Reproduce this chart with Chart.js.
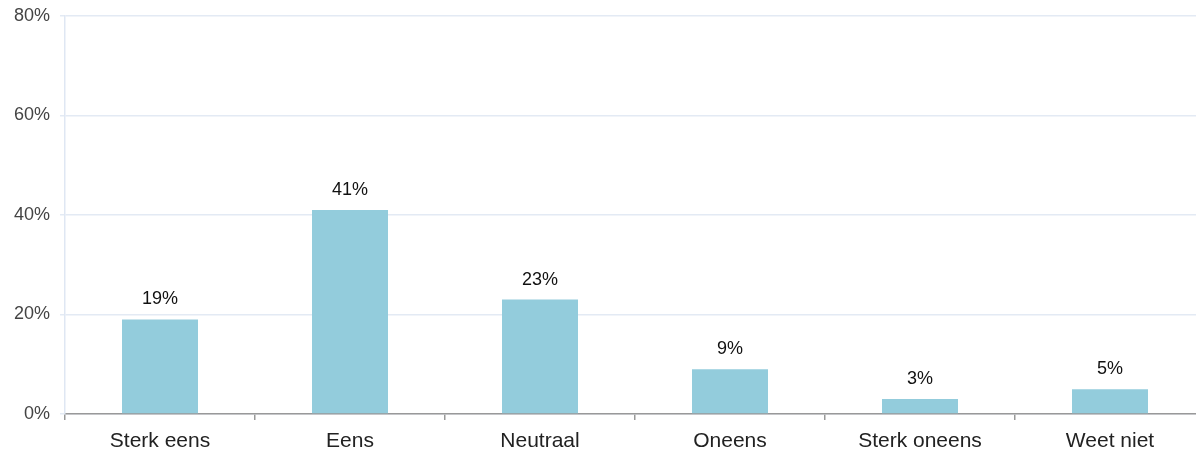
<!DOCTYPE html>
<html><head><meta charset="utf-8">
<script src="https://cdn.jsdelivr.net/npm/chart.js@4"></script>
<style>html,body{margin:0;padding:0;overflow:hidden;background:#fff}#wrap{width:1220px;height:452px}</style>
</head><body><div id="wrap"><canvas id="c"></canvas></div>
<script>
const categories = ["Sterk eens","Eens","Neutraal","Oneens","Sterk oneens","Weet niet"];
const values = [19,41,23,9,3,5];
const yTicks = [0,20,40,60,80];

const labelPlugin = {
  id:'barLabels',
  afterDatasetsDraw(chart){
    const ctx = chart.ctx;
    const meta = chart.getDatasetMeta(0);
    ctx.save();
    ctx.font = '18px "Liberation Sans", Arial, sans-serif';
    ctx.fillStyle = '#111';
    ctx.textAlign = 'center';
    ctx.textBaseline = 'bottom';
    meta.data.forEach((bar,i)=>{
      ctx.fillText(values[i]+'%', bar.x, bar.y-11);
    });
    ctx.restore();
  }
};

new Chart(document.getElementById('c'),{
  type:'bar',
  data:{labels:categories,datasets:[{data:values,backgroundColor:'#93ccdc',barPercentage:0.4,categoryPercentage:1}]},
  options:{
    responsive:true,maintainAspectRatio:false,animation:false,
    layout:{padding:{top:16,right:15,left:0,bottom:0}},
    plugins:{legend:{display:false},tooltip:{enabled:false}},
    scales:{
      x:{
        offset:true,
        grid:{display:true,drawOnChartArea:false,drawTicks:true,tickLength:6,color:'#999',lineWidth:1.5,offset:true},
        border:{display:true,color:'#999',width:1.5},
        ticks:{color:'#222',font:{family:'"Liberation Sans", Arial, sans-serif',size:21},padding:9},
        afterFit(s){s.height=38;}
      },
      y:{
        min:0,max:80,
        afterBuildTicks(s){s.ticks=yTicks.map(v=>({value:v}));},
        grid:{color:'#e3eaf4',lineWidth:1.5,tickLength:5},
        border:{display:true,color:'#dfe7f3',width:1.5},
        ticks:{color:'#444',font:{family:'"Liberation Sans", Arial, sans-serif',size:18,lineHeight:0.8},padding:10,callback:v=>v+'%'},
        afterFit(s){s.width=65;s.paddingTop=0;s.paddingBottom=0;}
      }
    }
  },
  plugins:[labelPlugin]
});
</script></body></html>
